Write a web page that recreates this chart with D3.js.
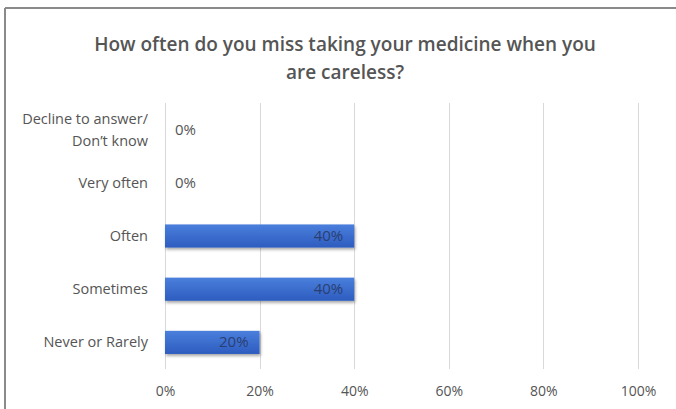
<!DOCTYPE html>
<html><head><meta charset="utf-8">
<script src="https://cdn.jsdelivr.net/npm/d3@7"></script>
<style>
html,body{margin:0;padding:0;background:#fff;}
svg{display:block;}
text{font-family:"Open Sans","Lato",sans-serif;}
</style></head>
<body>
<svg id="chart" width="676" height="409"></svg>
<script>
const titleLines = ["How often do you miss taking your medicine when you", "are careless?"];
const categories = ["Decline to answer/\nDon\u2019t know", "Very often", "Often", "Sometimes", "Never or Rarely"];
const values = [0, 0, 0.40, 0.40, 0.20];
const xTicks = [0, 0.2, 0.4, 0.6, 0.8, 1.0];

const svg = d3.select("#chart");
const W = 676, H = 409;
svg.append("rect").attr("width", W).attr("height", H).attr("fill", "#fff");

// frame lines (top and left)
svg.append("line").attr("x1", 5).attr("x2", W).attr("y1", 8).attr("y2", 8).attr("stroke", "#8a8a8a").attr("stroke-width", 2);
svg.append("line").attr("x1", 5).attr("x2", 5).attr("y1", 8).attr("y2", H).attr("stroke", "#8a8a8a").attr("stroke-width", 2);

const defs = svg.append("defs");
const grad = defs.append("linearGradient").attr("id", "barGrad").attr("x1", 0).attr("y1", 0).attr("x2", 0).attr("y2", 1);
grad.append("stop").attr("offset", "0%").attr("stop-color", "#4a7fdc");
grad.append("stop").attr("offset", "100%").attr("stop-color", "#2d5cbf");
const f = defs.append("filter").attr("id", "shadow").attr("x", "-10%").attr("y", "-30%").attr("width", "120%").attr("height", "180%");
f.append("feDropShadow").attr("dx", 1).attr("dy", 2).attr("stdDeviation", 1.5).attr("flood-color", "#000").attr("flood-opacity", 0.35);

const x = d3.scaleLinear().domain([0, 1]).range([165, 638]);
const y = d3.scaleBand().domain(categories).range([103, 369]).paddingInner(0.565).paddingOuter(0.2825);

// title
const title = svg.append("text").attr("x", 345).attr("text-anchor", "middle")
  .attr("fill", "#555").attr("font-size", 19).attr("font-weight", 600);
titleLines.forEach((t, i) => {
  title.append("tspan").attr("x", 345).attr("y", 51 + i * 28).text(t);
});

// gridlines
svg.append("g").selectAll("line").data(xTicks).join("line")
  .attr("x1", d => Math.round(x(d)) + 0.5).attr("x2", d => Math.round(x(d)) + 0.5)
  .attr("y1", 103).attr("y2", 369)
  .attr("stroke", "#d9d9d9").attr("stroke-width", 1);

// x axis labels
const xAxis = d3.axisBottom(x).tickValues(xTicks).tickFormat(d3.format(".0%")).tickSize(0).tickPadding(0);
const gx = svg.append("g").attr("transform", "translate(0,386)").call(xAxis);
gx.select(".domain").remove();
gx.selectAll("text").attr("fill", "#555").attr("font-size", 14).attr("font-family", "Open Sans, sans-serif");

// y axis labels
const gy = svg.append("g");
categories.forEach(c => {
  const lines = c.split("\n");
  const cy = y(c) + y.bandwidth() / 2;
  const t = gy.append("text").attr("text-anchor", "end").attr("fill", "#555").attr("font-size", 14.5);
  lines.forEach((l, i) => {
    t.append("tspan").attr("x", 148).attr("y", cy + 5 + (i - (lines.length - 1) / 2) * 22).text(l);
  });
});

// bars
svg.append("g").selectAll("rect").data(values).join("rect")
  .attr("x", x(0)).attr("y", (d, i) => y(categories[i]))
  .attr("width", d => x(d) - x(0)).attr("height", y.bandwidth())
  .attr("fill", "url(#barGrad)").attr("filter", "url(#shadow)")
  .style("display", d => d > 0 ? null : "none");

// data labels
svg.append("g").selectAll("text").data(values).join("text")
  .attr("x", d => d > 0 ? x(d) - 11 : x(0) + 10)
  .attr("y", (d, i) => y(categories[i]) + y.bandwidth() / 2 + 5)
  .attr("text-anchor", d => d > 0 ? "end" : "start")
  .attr("fill", d => d > 0 ? "#2a3f73" : "#555")
  .attr("font-size", 15)
  .text(d => d3.format(".0%")(d));
</script>
</body></html>
